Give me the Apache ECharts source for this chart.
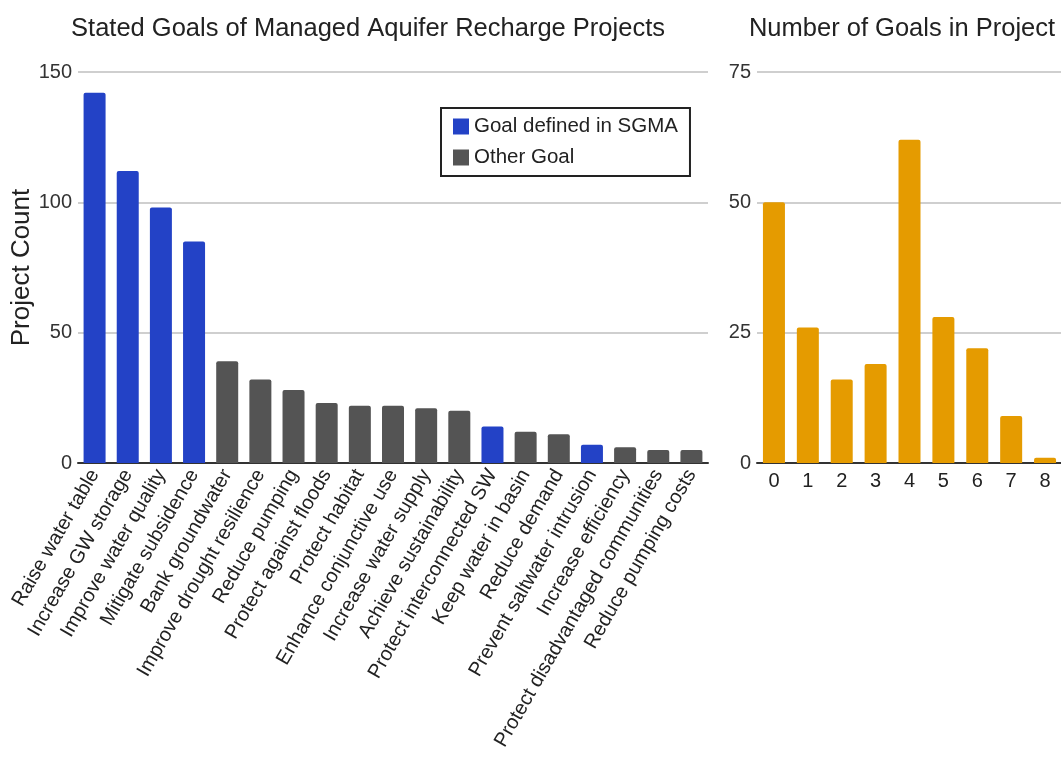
<!DOCTYPE html>
<html>
<head>
<meta charset="utf-8">
<script src="https://cdn.jsdelivr.net/npm/echarts@6/dist/echarts.min.js"></script>
<style>
  html, body { margin: 0; padding: 0; background: #fff; }
  #myChart { width: 1061px; height: 760px; }
</style>
</head>
<body>
<div id="myChart"></div>
<script>
// goals of MAR projects, sorted by count
var goalLabels = [
  "Raise water table", "Increase GW storage", "Improve water quality", "Mitigate subsidence",
  "Bank groundwater", "Improve drought resilience", "Reduce pumping", "Protect against floods",
  "Protect habitat", "Enhance conjunctive use", "Increase water supply", "Achieve sustainability",
  "Protect interconnected SW", "Keep water in basin", "Reduce demand", "Prevent saltwater intrusion",
  "Increase efficiency", "Protect disadvantaged communities", "Reduce pumping costs"
];
var goalCounts = [142, 112, 98, 85, 39, 32, 28, 23, 22, 22, 21, 20, 14, 12, 11, 7, 6, 5, 5];
// true = goal defined in SGMA
var sgmaGoal = [true, true, true, true, false, false, false, false, false, false, false, false,
  true, false, false, true, false, false, false];

// number of goals per project
var numGoals = ["0", "1", "2", "3", "4", "5", "6", "7", "8"];
var numGoalsCounts = [50, 26, 16, 19, 62, 28, 22, 9, 1];

var leftTicks = { min: 0, max: 150, interval: 50 };
var rightTicks = { min: 0, max: 75, interval: 25 };

var sgmaData = goalCounts.map(function (v, i) { return sgmaGoal[i] ? v : "-"; });
var otherData = goalCounts.map(function (v, i) { return sgmaGoal[i] ? "-" : v; });

var font = "Liberation Sans, Arial, sans-serif";
var myChart = echarts.init(document.getElementById("myChart"));

myChart.setOption({
  animation: false,
  textStyle: { fontFamily: font },
  title: [
    {
      text: "Stated Goals of Managed Aquifer Recharge Projects",
      left: 363, top: 11, textAlign: "center",
      textStyle: { fontSize: 25.5, fontWeight: "normal", color: "#222", fontFamily: font }
    },
    {
      text: "Number of Goals in Project",
      left: 897, top: 11, textAlign: "center",
      textStyle: { fontSize: 25.5, fontWeight: "normal", color: "#222", fontFamily: font }
    }
  ],
  legend: {
    orient: "vertical",
    left: 441, top: 108,
    padding: [8, 12, 8, 12],
    itemWidth: 16, itemHeight: 16, itemGap: 10,
    borderColor: "#222", borderWidth: 2,
    backgroundColor: "#fff",
    icon: "rect",
    data: ["Goal defined in SGMA", "Other Goal"],
    textStyle: { fontSize: 20.5, color: "#222", fontFamily: font }
  },
  grid: [
    { left: 78, top: 72, width: 630, height: 391, outerBoundsMode: "none" },
    { left: 757, top: 72, width: 305, height: 391, outerBoundsMode: "none" }
  ],
  xAxis: [
    {
      type: "category", gridIndex: 0, data: goalLabels,
      axisTick: { show: false },
      axisLine: { lineStyle: { color: "#333", width: 2 } },
      axisLabel: { interval: 0, rotate: 60, fontSize: 20, color: "#222", margin: 8 }
    },
    {
      type: "category", gridIndex: 1, data: numGoals,
      axisTick: { show: false },
      axisLine: { lineStyle: { color: "#333", width: 2 } },
      axisLabel: { interval: 0, fontSize: 20, color: "#222", margin: 8 }
    }
  ],
  yAxis: [
    {
      type: "value", gridIndex: 0,
      min: leftTicks.min, max: leftTicks.max, interval: leftTicks.interval,
      name: "Project Count", nameLocation: "middle", nameGap: 43, nameMoveOverlap: false,
      nameTextStyle: { fontSize: 26, color: "#222" },
      axisLabel: { fontSize: 20, color: "#333", margin: 6 },
      splitLine: { lineStyle: { color: "#cfcfcf", width: 2 } }
    },
    {
      type: "value", gridIndex: 1,
      min: rightTicks.min, max: rightTicks.max, interval: rightTicks.interval,
      axisLabel: { fontSize: 20, color: "#333", margin: 6 },
      splitLine: { lineStyle: { color: "#cfcfcf", width: 2 } }
    }
  ],
  series: [
    {
      name: "Goal defined in SGMA", type: "bar",
      xAxisIndex: 0, yAxisIndex: 0,
      data: sgmaData, barWidth: 22, barGap: "-100%",
      itemStyle: { color: "#2342c6", borderRadius: [2, 2, 0, 0] }
    },
    {
      name: "Other Goal", type: "bar",
      xAxisIndex: 0, yAxisIndex: 0,
      data: otherData, barWidth: 22, barGap: "-100%",
      itemStyle: { color: "#545454", borderRadius: [2, 2, 0, 0] }
    },
    {
      name: "Projects", type: "bar",
      xAxisIndex: 1, yAxisIndex: 1,
      data: numGoalsCounts, barWidth: 22,
      itemStyle: { color: "#e59b00", borderRadius: [2, 2, 0, 0] }
    }
  ]
});

window.addEventListener("resize", function () {
  myChart.resize();
});
</script>
</body>
</html>
